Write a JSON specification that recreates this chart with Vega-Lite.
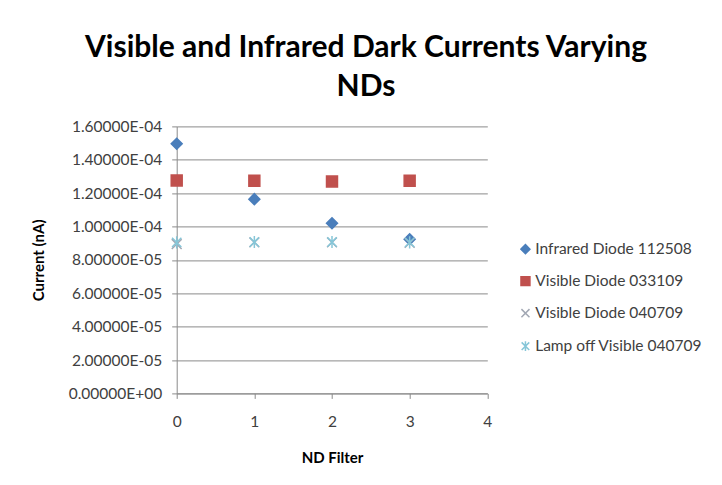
{
  "$schema": "https://vega.github.io/schema/vega-lite/v6.json",
  "width": 310.6,
  "height": 267,
  "autosize": {"type": "none"},
  "padding": {"left": 176.7, "top": 126.4, "right": 234.7, "bottom": 91.6},
  "background": "white",
  "title": {
    "text": ["Visible and Infrared Dark Currents Varying", "NDs"],
    "font": "Lato",
    "fontSize": 30,
    "fontWeight": "bold",
    "color": "#000000",
    "anchor": "middle",
    "dx": 34,
    "lineHeight": 39,
    "offset": 17
  },
  "data": {
    "values": [
      {"nd": 0, "current": 1.496e-4, "series": "Infrared Diode 112508"},
      {"nd": 1, "current": 1.164e-4, "series": "Infrared Diode 112508"},
      {"nd": 2, "current": 1.020e-4, "series": "Infrared Diode 112508"},
      {"nd": 3, "current": 9.24e-5, "series": "Infrared Diode 112508"},
      {"nd": 0, "current": 1.276e-4, "series": "Visible Diode 033109"},
      {"nd": 1, "current": 1.274e-4, "series": "Visible Diode 033109"},
      {"nd": 2, "current": 1.270e-4, "series": "Visible Diode 033109"},
      {"nd": 3, "current": 1.274e-4, "series": "Visible Diode 033109"},
      {"nd": 0, "current": 8.95e-5, "series": "Visible Diode 040709"},
      {"nd": 1, "current": 9.05e-5, "series": "Visible Diode 040709"},
      {"nd": 2, "current": 9.05e-5, "series": "Visible Diode 040709"},
      {"nd": 3, "current": 9.02e-5, "series": "Visible Diode 040709"},
      {"nd": 0, "current": 9.05e-5, "series": "Lamp off Visible 040709"},
      {"nd": 1, "current": 9.07e-5, "series": "Lamp off Visible 040709"},
      {"nd": 2, "current": 9.07e-5, "series": "Lamp off Visible 040709"},
      {"nd": 3, "current": 9.05e-5, "series": "Lamp off Visible 040709"}
    ]
  },
  "mark": {"type": "point", "size": 120, "strokeWidth": 1.5, "opacity": 1},
  "encoding": {
    "x": {
      "field": "nd",
      "type": "quantitative",
      "title": "ND Filter",
      "scale": {"domain": [0, 4], "nice": false, "zero": false},
      "axis": {
        "values": [0, 1, 2, 3, 4],
        "grid": false,
        "labelFlush": false,
        "domainColor": "#8a8a8a",
        "tickColor": "#8a8a8a",
        "tickSize": 5,
        "labelFont": "Lato",
        "labelFontSize": 15.5,
        "labelColor": "#404040",
        "labelPadding": 16,
        "titleFont": "Lato",
        "titleFontSize": 15,
        "titleFontWeight": "bold",
        "titleColor": "#000000",
        "titlePadding": 21
      }
    },
    "y": {
      "field": "current",
      "type": "quantitative",
      "title": "Current (nA)",
      "scale": {"domain": [0, 1.6e-4], "nice": false, "zero": true},
      "axis": {
        "values": [0, 2e-5, 4e-5, 6e-5, 8e-5, 1e-4, 1.2e-4, 1.4e-4, 1.6e-4],
        "labelExpr": "replace(replace(format(datum.value, '.5e'), 'e-', 'E-0'), 'e+', 'E+0')",
        "grid": true,
        "gridColor": "#8a8a8a",
        "gridWidth": 1,
        "domainColor": "#8a8a8a",
        "tickColor": "#8a8a8a",
        "tickSize": 5,
        "labelFont": "Lato",
        "labelFontSize": 15.5,
        "labelColor": "#404040",
        "labelPadding": 10,
        "titleFont": "Lato",
        "titleFontSize": 15,
        "titleFontWeight": "bold",
        "titleColor": "#000000",
        "titlePadding": 22
      }
    },
    "shape": {
      "field": "series",
      "type": "nominal",
      "title": null,
      "scale": {
        "domain": ["Infrared Diode 112508", "Visible Diode 033109", "Visible Diode 040709", "Lamp off Visible 040709"],
        "range": [
          "diamond",
          "square",
          "M-0.9,-0.9L0.9,0.9M-0.9,0.9L0.9,-0.9",
          "M-0.85,-0.85L0.85,0.85M-0.85,0.85L0.85,-0.85M0,-1.1L0,1.1"
        ]
      }
    },
    "fill": {
      "field": "series",
      "type": "nominal",
      "title": null,
      "scale": {
        "domain": ["Infrared Diode 112508", "Visible Diode 033109", "Visible Diode 040709", "Lamp off Visible 040709"],
        "range": ["#4a7ebb", "#c0504d", "transparent", "transparent"]
      }
    },
    "stroke": {
      "field": "series",
      "type": "nominal",
      "title": null,
      "scale": {
        "domain": ["Infrared Diode 112508", "Visible Diode 033109", "Visible Diode 040709", "Lamp off Visible 040709"],
        "range": ["#4a7ebb", "#c0504d", "#a2a8b4", "#86c6d8"]
      }
    }
  },
  "config": {
    "view": {"stroke": null},
    "legend": {
      "orient": "none",
      "legendX": 341,
      "legendY": 115,
      "labelFont": "Lato",
      "labelFontSize": 15.5,
      "labelColor": "#404040",
      "symbolSize": 80,
      "symbolStrokeWidth": 1.5,
      "rowPadding": 15,
      "labelOffset": 2,
      "labelLimit": 300
    }
  }
}
